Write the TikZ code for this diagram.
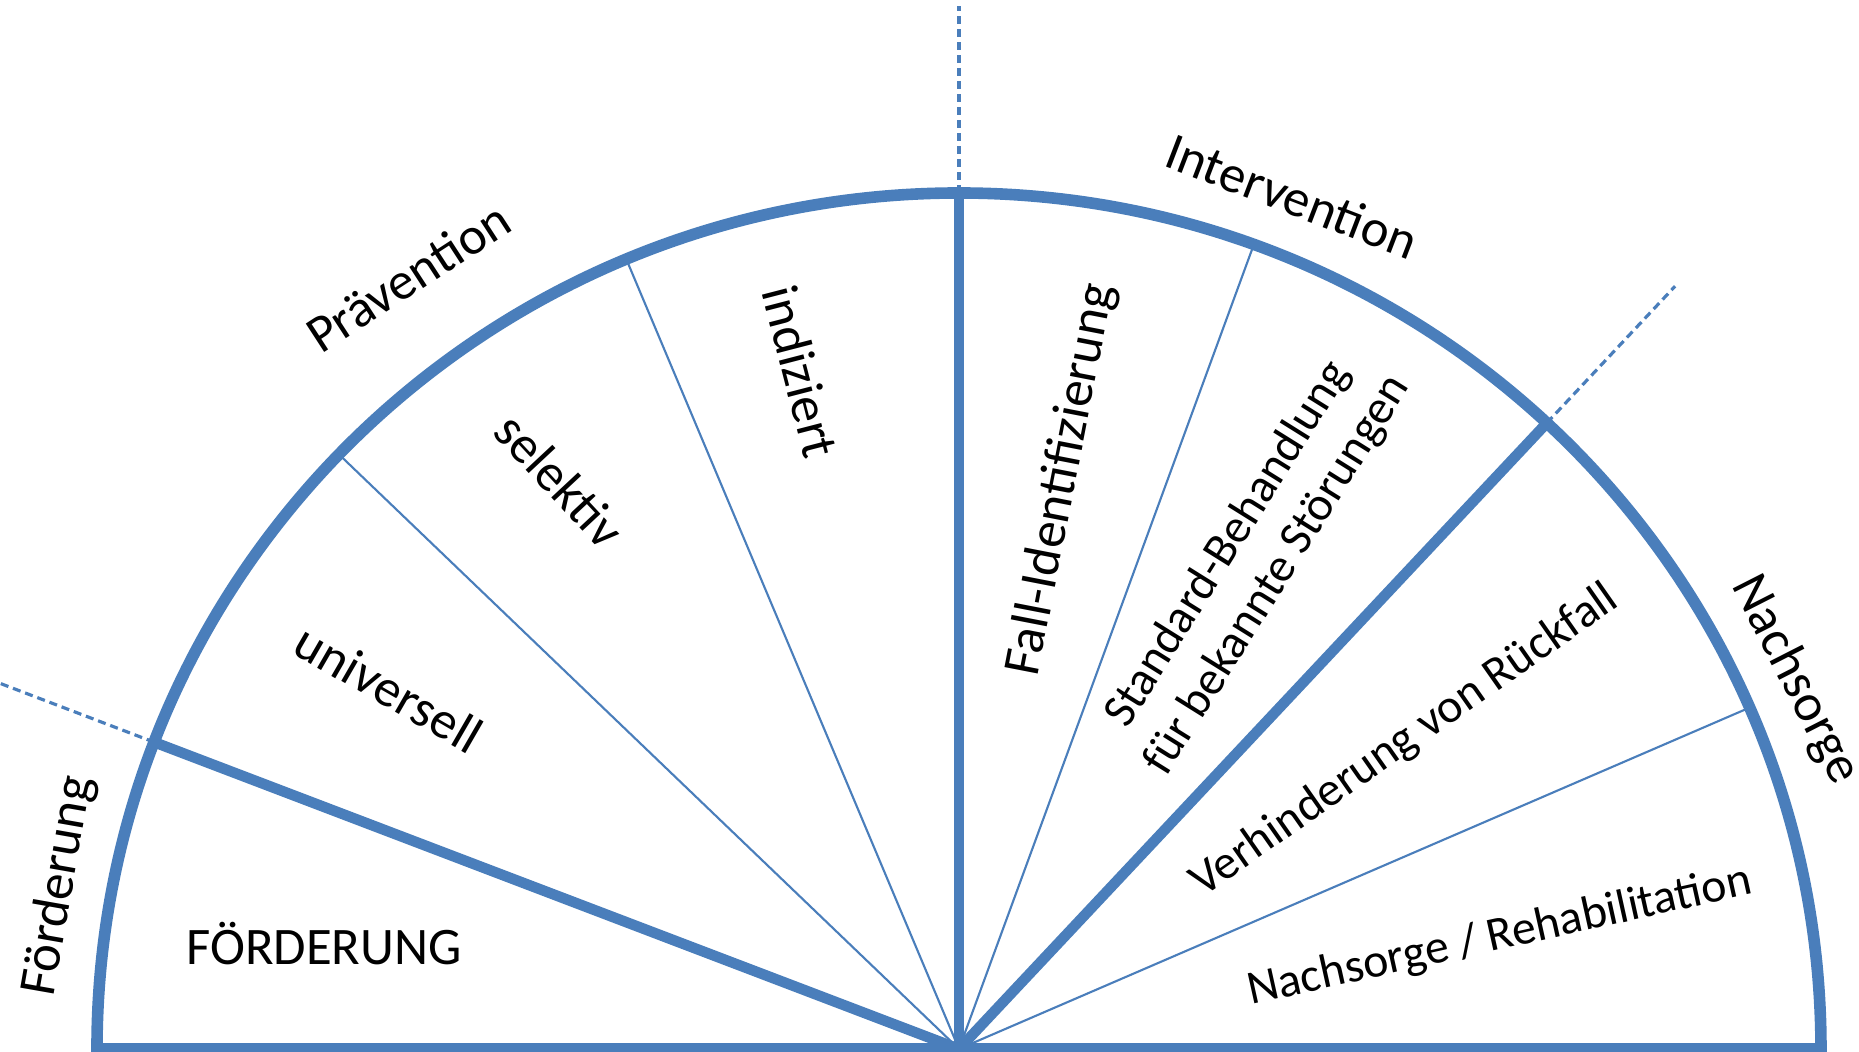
\documentclass[tikz,border=0pt]{standalone}
\usepackage{fontspec}
\setmainfont{Carlito}
\usetikzlibrary{positioning}
\definecolor{ringblue}{RGB}{74,126,187}

\begin{document}
\begin{tikzpicture}[x=0.01cm, y=0.01cm,
    rim/.style={line width=3.3pt, ringblue},
    divider/.style={line width=3pt, ringblue},
    subline/.style={line width=0.6pt, ringblue},
    guide/.style={line width=0.9pt, ringblue, dash pattern=on 2.3pt off 1.4pt},
    phase/.style={font=\fontsize{15}{18}\selectfont, inner sep=0pt},
    field/.style={font=\fontsize{15}{17.5}\selectfont, inner sep=0pt, align=center},
    smallfield/.style={field, font=\fontsize{13.6}{16.5}\selectfont}]
  \useasboundingbox (-959,-3) rectangle (900,1049);

  % centre and points on the rim
  \coordinate (c) at (0,0);
  \foreach \cname/\cang in {nr/23.5, na/47, ia/70, top/90, ps/112.7, pu/136, fa/159}
    \coordinate (\cname) at (\cang:862 and 856);
  % outer ends of the dashed guides
  \foreach \cname/\cang in {gna/47, gtop/90, gfa/159}
    \coordinate (\cname) at (\cang:1050 and 1043);

  % --- half circle ---
  \draw[rim] (862,0) arc[start angle=0, end angle=180, x radius=862, y radius=856] -- cycle;

  % --- main borders between the phases ---
  \draw[divider] (c) -- (fa);
  \draw[divider] (c) -- (top);
  \draw[divider] (c) -- (na);
  \draw[guide] (fa) -- (gfa);
  \draw[guide] (top) -- (gtop);
  \draw[guide] (na) -- (gna);

  % --- borders inside the phases ---
  \draw[subline] (c) -- (pu);
  \draw[subline] (c) -- (ps);
  \draw[subline] (c) -- (ia);
  \draw[subline] (c) -- (nr);

  % phase names (outside)
  \node[phase, rotate=80] (phF) at (-900,163) {Förderung};
  \node[phase, rotate=33] (phP) at (-551,772) {Prävention};
  \node[phase, rotate=-21] (phI) at (333,853) {Intervention};
  \node[phase, rotate=-63] (phN) at (836,369) {Nachsorge};

  % fields (inside)
  \node[field] (fF) at (-635,105) {FÖRDERUNG};
  \node[field, rotate=-30] (fU) at (-570,361) {universell};
  \node[field, rotate=-47] (fS) at (-399,569) {selektiv};
  \node[field, rotate=-75.5] (fX) at (-158,677) {indiziert};
  \node[field, rotate=79] (fC) at (103,569) {Fall-Identifizierung};
  \node[smallfield, rotate=58] (fB) at (294,489) {Standard-Behandlung\\für bekannte Störungen};
  \node[smallfield, rotate=35] (fR) at (446,308) {Verhinderung von Rückfall};
  \node[smallfield, rotate=12.5] (fN) at (541,112) {Nachsorge / Rehabilitation};
\end{tikzpicture}
\end{document}
